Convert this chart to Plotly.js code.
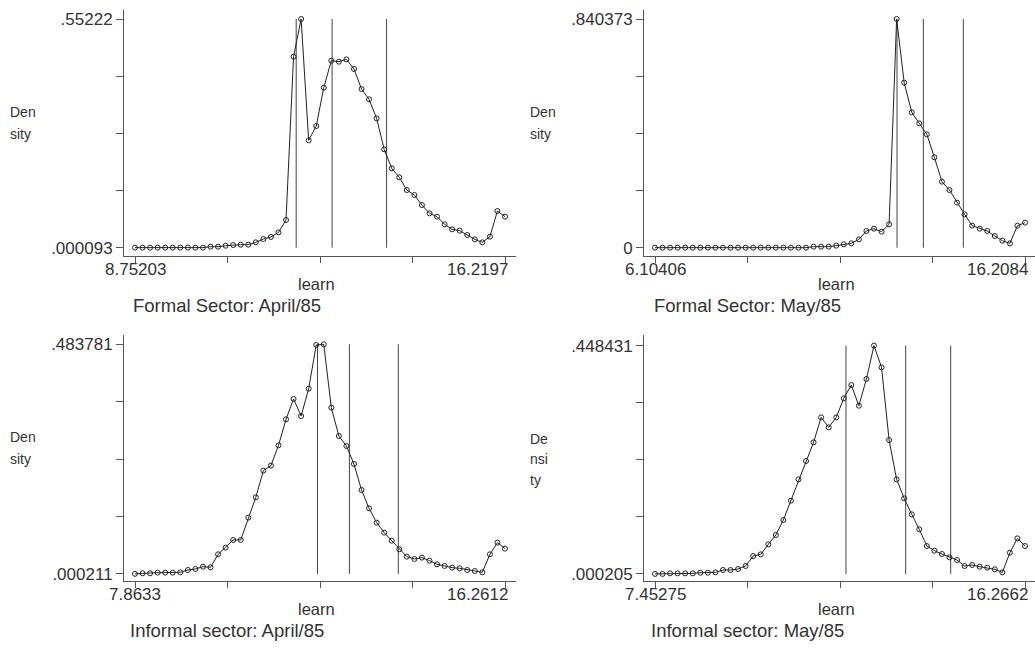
<!DOCTYPE html>
<html><head><meta charset="utf-8">
<script src="https://cdn.plot.ly/plotly-3.0.1.min.js"></script>
<style>html,body{margin:0;padding:0;background:#fff;} #chart{width:1035px;height:650px;}</style>
</head><body><div id="chart"></div>
<script>
// ---- data ----
const panelTitles = ["Formal Sector: April/85", "Formal Sector: May/85", "Informal sector: April/85", "Informal sector: May/85"];
const xTitle = "learn";
const yTitleLines = [["Den", "sity"], ["Den", "sity"], ["Den", "sity"], ["De", "nsi", "ty"]];

const formalAprX = [8.752,8.904,9.057,9.209,9.362,9.514,9.666,9.819,9.971,10.124,10.276,10.428,10.581,10.733,10.886,11.038,11.190,11.343,11.495,11.648,11.800,11.952,12.105,12.257,12.410,12.562,12.714,12.867,13.019,13.172,13.324,13.476,13.629,13.781,13.934,14.086,14.238,14.391,14.543,14.696,14.848,15.000,15.153,15.305,15.458,15.610,15.762,15.915,16.067,16.220];
const formalAprY = [0.000093,0.000093,0.000093,0.000093,0.000093,0.000093,0.000093,0.000093,0.000093,0.000093,0.0024,0.0024,0.0048,0.0064,0.0072,0.0072,0.0129,0.0209,0.0258,0.0370,0.0668,0.4613,0.55222,0.2592,0.2938,0.3864,0.4516,0.4492,0.4548,0.4315,0.3832,0.3582,0.3123,0.2375,0.1916,0.1699,0.1393,0.1272,0.1030,0.0829,0.0749,0.0564,0.0443,0.0411,0.0306,0.0201,0.0129,0.0266,0.0886,0.0749];

const formalMayX = [6.104,6.310,6.516,6.723,6.929,7.135,7.341,7.548,7.754,7.960,8.166,8.372,8.579,8.785,8.991,9.197,9.403,9.610,9.816,10.022,10.228,10.434,10.641,10.847,11.053,11.259,11.466,11.672,11.878,12.084,12.290,12.497,12.703,12.909,13.115,13.321,13.528,13.734,13.940,14.146,14.352,14.559,14.765,14.971,15.177,15.384,15.590,15.796,16.002,16.208];
const formalMayY = [0,0,0,0,0,0,0,0,0,0,0,0,0,0,0,0,0,0,0,0,0,0.0037,0.0037,0.0037,0.0074,0.0123,0.0159,0.0306,0.0613,0.0698,0.0588,0.0858,0.840373,0.6064,0.4974,0.4569,0.4165,0.3320,0.2426,0.2119,0.1654,0.1225,0.0809,0.0698,0.0613,0.0429,0.0257,0.0159,0.0809,0.0919];

const informalAprX = [7.863,8.035,8.206,8.377,8.549,8.720,8.892,9.063,9.234,9.406,9.577,9.749,9.920,10.091,10.263,10.434,10.605,10.777,10.948,11.120,11.291,11.462,11.634,11.805,11.977,12.148,12.319,12.491,12.662,12.833,13.005,13.176,13.348,13.519,13.690,13.862,14.033,14.205,14.376,14.547,14.719,14.890,15.062,15.233,15.404,15.576,15.747,15.918,16.090,16.261];
const informalAprY = [0.000211,0.0014,0.0014,0.0028,0.0028,0.0028,0.0035,0.0084,0.0105,0.0154,0.0140,0.0414,0.0555,0.0716,0.0716,0.1187,0.1615,0.2177,0.2282,0.2710,0.3258,0.3686,0.3328,0.3904,0.4824,0.483781,0.3504,0.2907,0.2696,0.2317,0.1769,0.1383,0.1081,0.0871,0.0702,0.0520,0.0365,0.0316,0.0344,0.0281,0.0204,0.0169,0.0133,0.0119,0.0084,0.0063,0.0035,0.0414,0.0660,0.0534];

const informalMayX = [7.453,7.633,7.812,7.992,8.172,8.352,8.532,8.712,8.892,9.072,9.251,9.431,9.611,9.791,9.971,10.151,10.331,10.510,10.690,10.870,11.050,11.230,11.410,11.590,11.770,11.949,12.129,12.309,12.489,12.669,12.849,13.029,13.208,13.388,13.568,13.748,13.928,14.108,14.288,14.468,14.647,14.827,15.007,15.187,15.367,15.547,15.727,15.906,16.086,16.266];
const informalMayY = [0.000205,0.000205,0.0013,0.0013,0.0013,0.0013,0.0026,0.0026,0.0033,0.0079,0.0079,0.0098,0.0157,0.0353,0.0386,0.0582,0.0766,0.1060,0.1440,0.1858,0.2218,0.2585,0.3075,0.2879,0.3075,0.3448,0.3710,0.3304,0.3828,0.448431,0.4057,0.2630,0.1858,0.1485,0.1171,0.0877,0.0550,0.0458,0.0393,0.0327,0.0275,0.0157,0.0177,0.0144,0.0124,0.0092,0.0033,0.0419,0.0700,0.0550];

const vlinesFormalApr = [12.005, 12.73, 13.83];
const vlinesFormalMay = [12.713, 13.432, 14.524];
const vlinesInformalApr = [12.005, 12.73, 13.84];
const vlinesInformalMay = [12.002, 13.424, 14.496];

const xMinVals = [8.75203, 6.10406, 7.8633, 7.45275];
const xMaxVals = [16.2197, 16.2084, 16.2612, 16.2662];
const xMinLabels = ["8.75203", "6.10406", "7.8633", "7.45275"];
const xMaxLabels = ["16.2197", "16.2084", "16.2612", "16.2662"];
const yMinVals = [0.000093, 0, 0.000211, 0.000205];
const yMaxVals = [0.55222, 0.840373, 0.483781, 0.448431];
const yMinLabels = [".000093", "0", ".000211", ".000205"];
const yMaxLabels = [".55222", ".840373", ".483781", ".448431"];

// ---- layout geometry ----
const W = 1035, H = 650;
const py = px => (H - px) / H;
const seriesX = [formalAprX, formalMayX, informalAprX, informalMayX];
const seriesY = [formalAprY, formalMayY, informalAprY, informalMayY];
const vlines = [vlinesFormalApr, vlinesFormalMay, vlinesInformalApr, vlinesInformalMay];
const panels = [
  {xd: [124/W, 516/W], yd: [py(256), py(10)], xr: [8.5300, 16.4417], yr: [-0.0201, 0.5740], cx: 0, top: 0},
  {xd: [644/W, 1], yd: [py(256), py(10)], xr: [5.8037, 16.4815], yr: [-0.0306, 0.8735], cx: 520, top: 0},
  {xd: [124/W, 516/W], yd: [py(581), py(335)], xr: [7.6136, 16.5109], yr: [-0.0148, 0.5034], cx: 0, top: 325},
  {xd: [644/W, 1], yd: [py(581), py(335)], xr: [7.1907, 16.5044], yr: [-0.0137, 0.4692], cx: 520, top: 325}
];

const FONT = "Liberation Sans, Arial, Helvetica, sans-serif";
const TXT = "#333";
const AX = "#555";
const traces = [];
const annotations = [];
const layout = {
  width: W, height: H, margin: {l: 0, r: 0, t: 0, b: 0},
  paper_bgcolor: "#fff", plot_bgcolor: "#fff", showlegend: false,
  font: {family: FONT, color: TXT}
};

panels.forEach((p, i) => {
  const n = i === 0 ? "" : String(i + 1);
  const xa = "x" + n, ya = "y" + n;
  const xmin = xMinVals[i], xmax = xMaxVals[i], ymin = yMinVals[i], ymax = yMaxVals[i];
  const xt = [0, 1, 2, 3, 4].map(k => xmin + k * (xmax - xmin) / 4);
  const yt = [0, 1, 2, 3, 4].map(k => ymin + k * (ymax - ymin) / 4);

  const vx = [], vy = [];
  vlines[i].forEach(v => { vx.push(v, v, null); vy.push(ymin, ymax, null); });
  traces.push({x: vx, y: vy, xaxis: xa, yaxis: ya, mode: "lines", type: "scatter",
    line: {color: "#444", width: 1}, hoverinfo: "skip"});
  traces.push({x: seriesX[i], y: seriesY[i], xaxis: xa, yaxis: ya, mode: "lines+markers", type: "scatter",
    line: {color: "#222", width: 1},
    marker: {symbol: "circle-open", size: 5, color: "#222", line: {width: 1, color: "#222"}}});

  layout["xaxis" + n] = {domain: p.xd, range: p.xr, anchor: ya, showgrid: false, zeroline: false,
    showline: true, linecolor: AX, linewidth: 1, ticks: "outside", ticklen: 6, tickcolor: AX,
    tickvals: xt, ticktext: ["", "", "", "", ""], fixedrange: true};
  layout["yaxis" + n] = {domain: p.yd, range: p.yr, anchor: xa, showgrid: false, zeroline: false,
    showline: true, linecolor: AX, linewidth: 1, ticks: "outside", ticklen: 7, tickcolor: AX,
    tickvals: yt, ticktext: [yMinLabels[i], "", "", "", yMaxLabels[i]],
    tickfont: {family: FONT, size: 17, color: TXT}, fixedrange: true};

  const yTick = p.top + 269, yLearn = p.top + 284, yTitle = p.top + 305;
  annotations.push({xref: xa, yref: "paper", x: xmin, y: py(yTick), text: xMinLabels[i], showarrow: false,
    xanchor: "center", yanchor: "middle", font: {family: FONT, size: 17, color: TXT}});
  annotations.push({xref: xa, yref: "paper", x: xmax, y: py(yTick), text: xMaxLabels[i], showarrow: false,
    xanchor: "right", xshift: 5, yanchor: "middle", font: {family: FONT, size: 17, color: TXT}});
  annotations.push({xref: "paper", yref: "paper", x: (p.cx + 316) / W, y: py(yLearn), text: xTitle, showarrow: false,
    xanchor: "center", yanchor: "middle", font: {family: FONT, size: 16.5, color: TXT}});
  annotations.push({xref: "paper", yref: "paper", x: (p.cx + 227) / W, y: py(yTitle), text: panelTitles[i], showarrow: false,
    xanchor: "center", yanchor: "middle", font: {family: FONT, size: 18.5, color: TXT}});
  const lines = yTitleLines[i];
  const lineY = lines.length === 2 ? [112, 134] : [114, 134, 155];
  lines.forEach((t, j) => {
    annotations.push({xref: "paper", yref: "paper", x: (p.cx + 8) / W, y: py(p.top + lineY[j]), text: t, showarrow: false,
      xanchor: "left", yanchor: "middle", font: {family: FONT, size: 14, color: TXT}});
  });
});
layout.annotations = annotations;

Plotly.newPlot("chart", traces, layout, {displayModeBar: false, staticPlot: true});
</script>
</body></html>
